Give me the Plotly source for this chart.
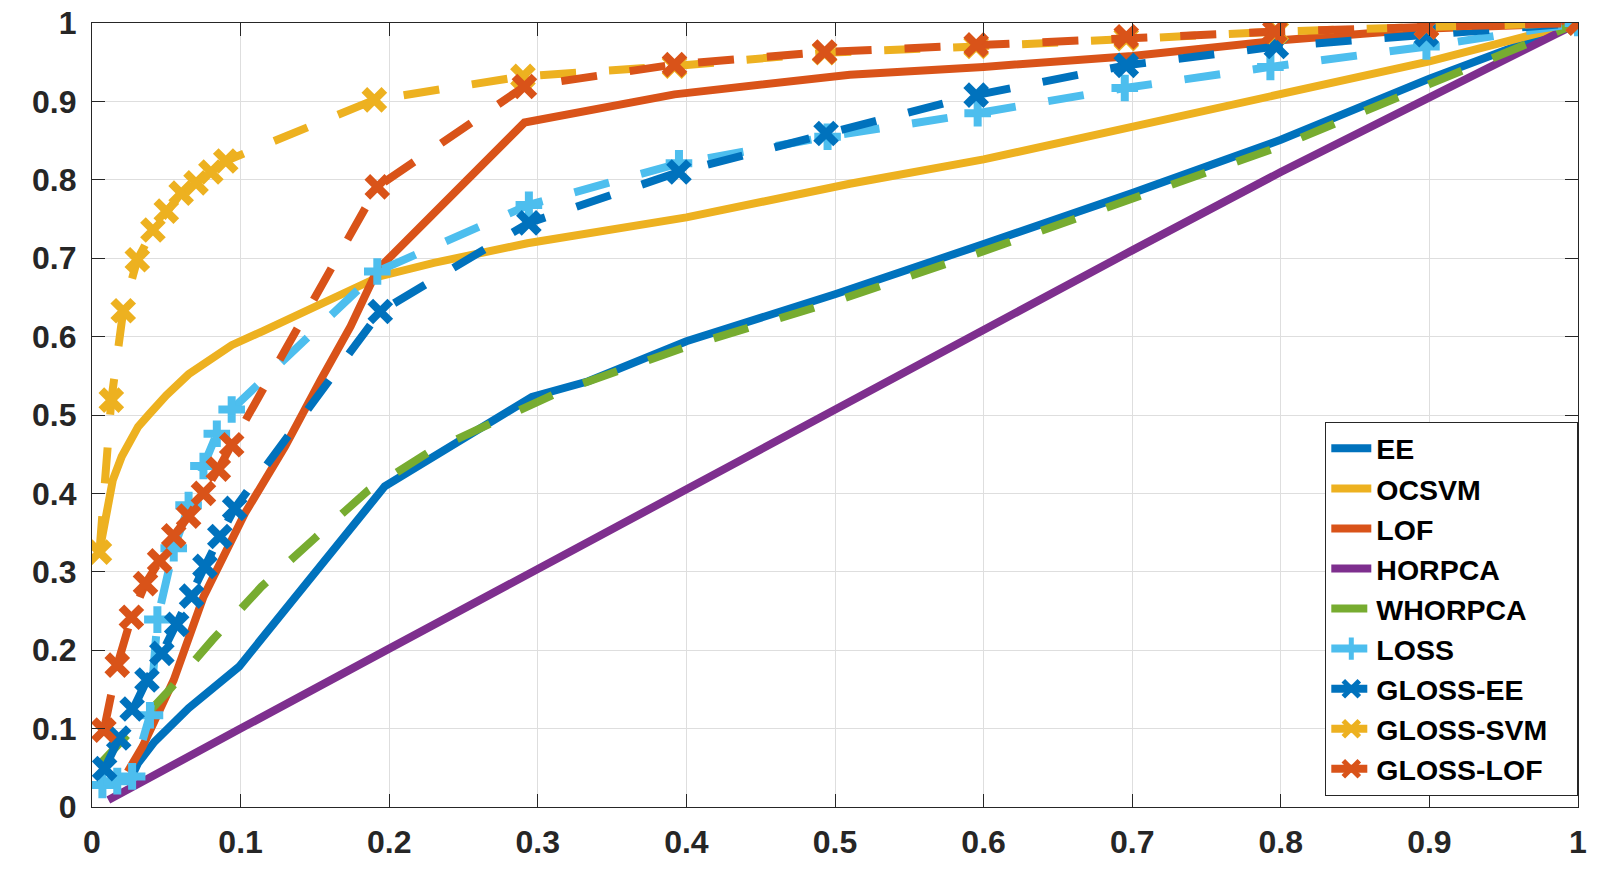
import plotly.graph_objects as go

# ROC curves (FPR on x, TPR on y)
ee_fpr = [0.027, 0.031, 0.042, 0.065, 0.099, 0.154, 0.197, 0.296, 0.334, 0.4, 0.5, 0.6, 0.7, 0.8, 0.9, 1.0]
ee_tpr = [0.040, 0.056, 0.083, 0.126, 0.179, 0.307, 0.409, 0.523, 0.543, 0.594, 0.654, 0.718, 0.783, 0.851, 0.929, 1.0]

ocsvm_fpr = [0.005, 0.014, 0.020, 0.031, 0.038, 0.050, 0.065, 0.094, 0.115, 0.135, 0.155, 0.175, 0.194, 0.230, 0.260, 0.293, 0.4, 0.51, 0.6, 0.7, 0.8, 0.9, 1.0]
ocsvm_tpr = [0.326, 0.417, 0.447, 0.485, 0.500, 0.525, 0.552, 0.589, 0.607, 0.625, 0.643, 0.661, 0.677, 0.694, 0.707, 0.719, 0.752, 0.795, 0.826, 0.868, 0.911, 0.951, 1.0]

lof_fpr = [0.024, 0.034, 0.055, 0.075, 0.103, 0.130, 0.154, 0.174, 0.192, 0.291, 0.392, 0.51, 0.6, 0.7, 0.8, 0.9, 1.0]
lof_tpr = [0.045, 0.077, 0.162, 0.268, 0.375, 0.460, 0.545, 0.613, 0.685, 0.873, 0.909, 0.934, 0.944, 0.958, 0.978, 0.993, 1.0]

horpca_fpr = [0.011, 0.058, 0.1, 0.2, 0.3, 0.4, 0.5, 0.6, 0.7, 0.8, 0.9, 1.0]
horpca_tpr = [0.009, 0.056, 0.1, 0.202, 0.304, 0.405, 0.507, 0.608, 0.71, 0.81, 0.904, 1.0]

whorpca_fpr = [0.007, 0.05, 0.081, 0.114, 0.15, 0.186, 0.227, 0.27, 0.315, 0.4, 0.5, 0.6, 0.7, 0.8, 0.9, 1.0]
whorpca_tpr = [0.058, 0.145, 0.213, 0.281, 0.343, 0.404, 0.453, 0.492, 0.53, 0.587, 0.645, 0.709, 0.775, 0.843, 0.922, 1.0]

loss_fpr = [0.007, 0.017, 0.027, 0.039, 0.044, 0.055, 0.065, 0.075, 0.084, 0.094, 0.192, 0.294, 0.395, 0.495, 0.596, 0.695, 0.793, 0.898, 1.0]
loss_tpr = [0.028, 0.033, 0.039, 0.117, 0.239, 0.330, 0.385, 0.435, 0.476, 0.507, 0.683, 0.768, 0.821, 0.855, 0.885, 0.917, 0.944, 0.970, 1.0]

gloss_ee_fpr = [0.0085, 0.018, 0.027, 0.037, 0.047, 0.057, 0.067, 0.076, 0.086, 0.096, 0.194, 0.294, 0.395, 0.494, 0.595, 0.696, 0.797, 0.898, 1.0]
gloss_ee_tpr = [0.049, 0.088, 0.125, 0.162, 0.196, 0.233, 0.269, 0.307, 0.345, 0.381, 0.632, 0.745, 0.810, 0.859, 0.908, 0.946, 0.970, 0.985, 1.0]

gloss_svm_fpr = [0.005, 0.013, 0.021, 0.0305, 0.041, 0.050, 0.060, 0.070, 0.080, 0.090, 0.190, 0.290, 0.392, 0.493, 0.595, 0.696, 0.797, 0.898, 1.0]
gloss_svm_tpr = [0.325, 0.519, 0.633, 0.698, 0.736, 0.760, 0.783, 0.796, 0.810, 0.824, 0.902, 0.932, 0.945, 0.962, 0.970, 0.980, 0.989, 0.995, 1.0]

gloss_lof_fpr = [0.008, 0.017, 0.0265, 0.036, 0.0455, 0.055, 0.065, 0.075, 0.085, 0.094, 0.192, 0.291, 0.392, 0.493, 0.595, 0.696, 0.796, 0.898, 1.0]
gloss_lof_tpr = [0.098, 0.181, 0.242, 0.285, 0.314, 0.346, 0.371, 0.400, 0.431, 0.462, 0.791, 0.919, 0.947, 0.963, 0.972, 0.9825, 0.989, 0.995, 1.0]

tick_vals = [0, 0.1, 0.2, 0.3, 0.4, 0.5, 0.6, 0.7, 0.8, 0.9, 1]
tick_text = ["0", "0.1", "0.2", "0.3", "0.4", "0.5", "0.6", "0.7", "0.8", "0.9", "1"]

# matlab default colour order
BLUE = "#0072BD"
YELLOW = "#EDB120"
RED = "#D95319"
PURPLE = "#7E2F8E"
GREEN = "#77AC30"
CYAN = "#4DBEEE"

LW = 8
DASH = "36px,33px"
NB = "\u00a0"

series = [
    ("EE", ee_fpr, ee_tpr, BLUE, "solid", None),
    ("OCSVM", ocsvm_fpr, ocsvm_tpr, YELLOW, "solid", None),
    ("LOF", lof_fpr, lof_tpr, RED, "solid", None),
    ("HORPCA", horpca_fpr, horpca_tpr, PURPLE, "solid", None),
    ("WHORPCA", whorpca_fpr, whorpca_tpr, GREEN, DASH, None),
    ("LOSS", loss_fpr, loss_tpr, CYAN, DASH, "cross-thin"),
    ("GLOSS-EE", gloss_ee_fpr, gloss_ee_tpr, BLUE, DASH, "x-thin"),
    ("GLOSS-SVM" + NB * 3, gloss_svm_fpr, gloss_svm_tpr, YELLOW, DASH, "x-thin"),
    ("GLOSS-LOF", gloss_lof_fpr, gloss_lof_tpr, RED, DASH, "x-thin"),
]

fig = go.Figure()
for name, xs, ys, col, dash, sym in series:
    if sym is None:
        fig.add_trace(go.Scatter(
            x=xs, y=ys, name=name, mode="lines",
            line={"color": col, "width": LW, "dash": dash},
        ))
    else:
        fig.add_trace(go.Scatter(
            x=xs, y=ys, name=name, mode="lines+markers",
            line={"color": col, "width": LW, "dash": dash},
            marker={
                "symbol": sym,
                "size": 19 if sym == "cross-thin" else 20,
                "color": col,
                "line": {"color": col, "width": 8},
            },
        ))

axis_style = {
    "range": [0, 1],
    "tickvals": tick_vals,
    "ticktext": tick_text,
    "automargin": False,
    "showgrid": True,
    "gridcolor": "#dedede",
    "gridwidth": 1,
    "zeroline": False,
    "showline": True,
    "linecolor": "#262626",
    "linewidth": 1.3,
    "mirror": "allticks",
    "ticks": "inside",
    "ticklen": 13,
    "tickwidth": 1.3,
    "tickcolor": "#262626",
    "tickfont": {"family": "Liberation Sans, Arial", "size": 32, "color": "#262626", "weight": "bold"},
}

fig.update_layout(
    {
        "width": 1603,
        "height": 869,
        "paper_bgcolor": "white",
        "plot_bgcolor": "white",
        "margin": {"l": 92, "r": 25, "t": 23, "b": 62},
        "xaxis": dict(axis_style, ticklabelstandoff=6),
        "yaxis": dict(axis_style, ticklabelstandoff=8),
        "showlegend": True,
        "legend": {
            "x": 1,
            "xanchor": "right",
            "y": 0.014,
            "yanchor": "bottom",
            "bgcolor": "white",
            "bordercolor": "#262626",
            "borderwidth": 1.3,
            "itemwidth": 40,
            "tracegroupgap": 0,
            "font": {"family": "Liberation Sans, Arial", "size": 28.5, "color": "black", "weight": "bold"},
        },
    }
)

# drop the default body margin so the figure sits at the page origin
fig.write_html(
    "out.html",
    config={"displayModeBar": False},
    post_script="document.body.style.margin='0';",
)
